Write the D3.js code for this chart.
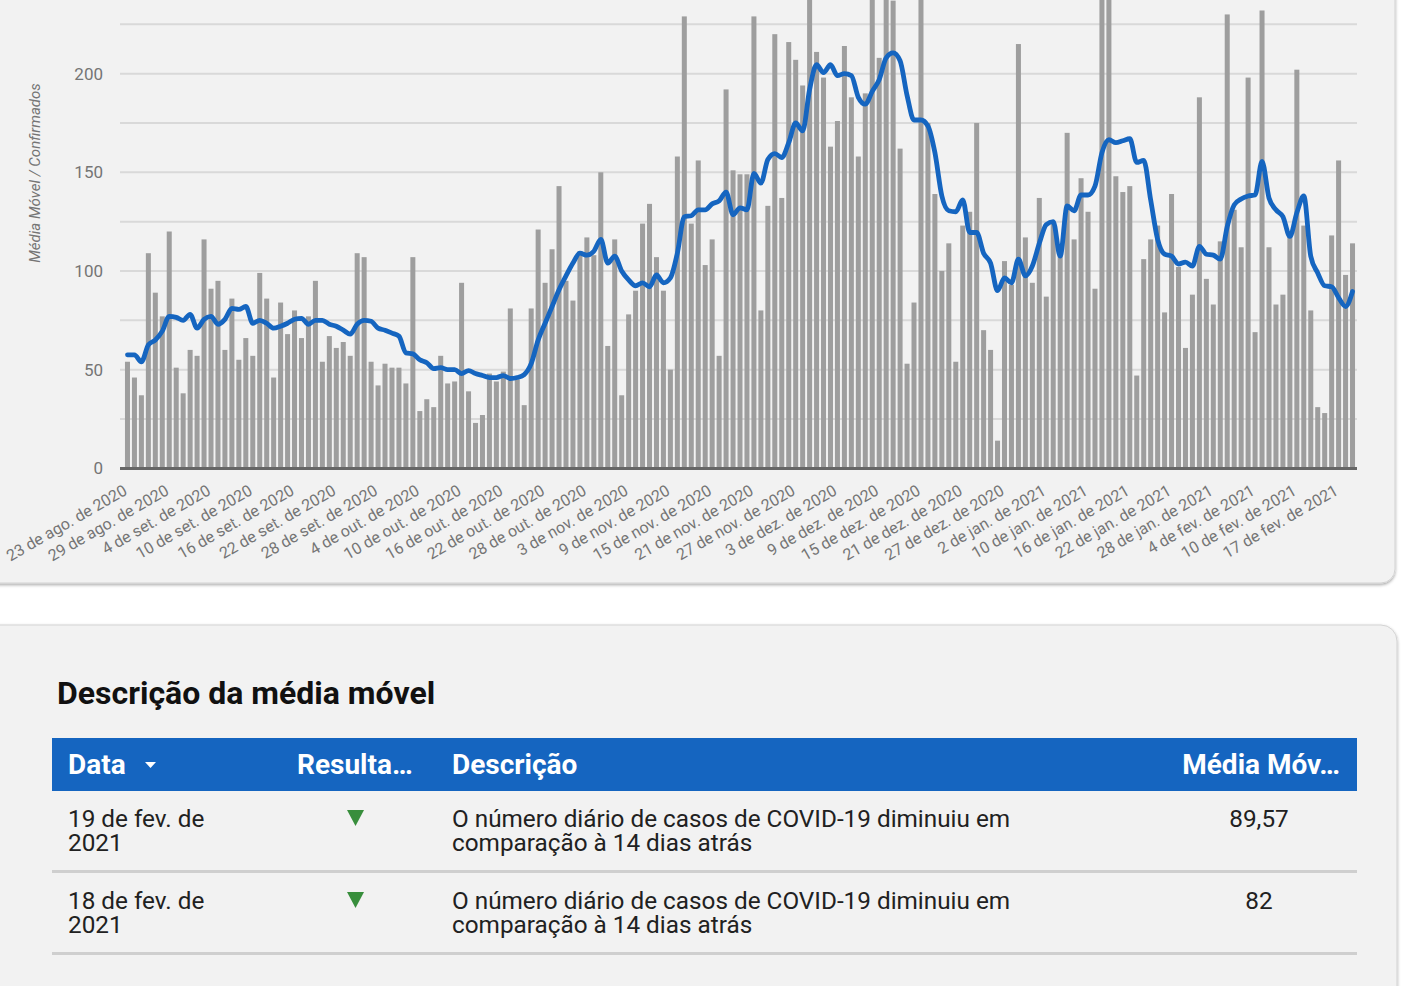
<!DOCTYPE html>
<html><head><meta charset="utf-8">
<script src="https://cdn.jsdelivr.net/npm/d3@7"></script>
<style>
html,body{margin:0;padding:0;background:#fff;overflow:hidden;}
svg{display:block;font-family:Roboto,"Noto Sans",sans-serif;}
</style></head><body>
<svg id="chart" width="1423" height="986"></svg>
<script>
// ---------- DATA ----------
const dailyCases = [
54,46,37,109,89,77,120,51,38,60,57,116,91,95,60,86,55,66,57,99,86,46,84,68,80,66,77,95,
54,67,61,64,57,109,107,54,42,53,51,51,43,107,29,35,31,57,43,44,94,39,23,27,48,44,49,81,
45,32,81,121,94,111,143,95,85,110,117,108,150,62,116,37,78,90,124,134,107,90,50,158,229,124,156,103,116,57,
192,151,149,149,229,80,133,220,137,216,207,194,252,211,198,163,176,214,188,158,190,262,208,258,237,162,53,84,
248,175,139,100,114,54,123,130,175,70,60,14,105,93,215,117,94,137,87,124,108,170,116,147,130,91,265,255,148,
140,143,47,106,116,123,79,139,102,61,88,188,96,83,115,230,131,112,198,69,232,112,83,88,118,202,123,80,31,28,118,156,98,114
];
const movingAverage = [
57.5,57.5,54,62.5,65,69.5,77,76.5,75,78,71,75.5,77,73,75.5,81,80.5,82,73.5,75,73.5,71,72,73.5,75.5,76,73,75,
75,73,72,70,68,73,75,74.5,71,70,68.5,67,58.5,58,55,53.5,50.5,51,50,50,48,49.5,48,47,46,46,47,45.5,
46,47.5,53,65,73.5,82,90.5,97.5,104,109,108,110,116,104,107.5,100,95.5,92.5,94,92,98,94,96.5,109,127.5,128,131,131,134,135.5,
140,128.5,132,131,149.5,144.5,156.5,159.5,157.5,165,175,171,192,204.5,200.5,204.5,199,200,199,188,184.5,191,197,208,210.5,206.5,189,176.5,
176.5,173.5,160,138,130.5,130,136,119.5,119.5,109,104,90,96.5,94,106,97.5,102.5,114,123.5,125,107.5,133,130.5,138.5,138.5,143,160,166.5,165,
166,167,155,156,136,116,108.5,107.5,103.5,104.5,102.5,112.5,108.5,108,106,122.5,133.5,136.5,138,138.5,155.5,137,131,127.5,117.5,129.5,138,107.5,99,92.5,92,86.5,82,89.57
];
const skippedDates = ["2021-01-04","2021-01-07","2021-02-01","2021-02-14"];
const tickLabels = [
"23 de ago. de 2020","29 de ago. de 2020","4 de set. de 2020","10 de set. de 2020","16 de set. de 2020",
"22 de set. de 2020","28 de set. de 2020","4 de out. de 2020","10 de out. de 2020","16 de out. de 2020",
"22 de out. de 2020","28 de out. de 2020","3 de nov. de 2020","9 de nov. de 2020","15 de nov. de 2020",
"21 de nov. de 2020","27 de nov. de 2020","3 de dez. de 2020","9 de dez. de 2020","15 de dez. de 2020",
"21 de dez. de 2020","27 de dez. de 2020","2 de jan. de 2021","10 de jan. de 2021","16 de jan. de 2021",
"22 de jan. de 2021","28 de jan. de 2021","4 de fev. de 2021","10 de fev. de 2021","17 de fev. de 2021"
];
const yTickValues = [0,50,100,150,200];
const yGridValues = [25,50,75,100,125,150,175,200,225];
const yAxisTitle = "Média Móvel / Confirmados";
const tableTitle = "Descrição da média móvel";
const tableHeaders = ["Data","Resulta…","Descrição","Média Móv…"];
const rowDates = [["19 de fev. de","2021"],["18 de fev. de","2021"]];
const rowDescriptions = [
  ["O número diário de casos de COVID-19 diminuiu em","comparação à 14 dias atrás"],
  ["O número diário de casos de COVID-19 diminuiu em","comparação à 14 dias atrás"]
];
const rowValues = ["89,57","82"];

// categories (dates in the data source)
const categories = [];
{
  const d = new Date(Date.UTC(2020,7,23));
  while (categories.length < dailyCases.length) {
    const iso = d.toISOString().slice(0,10);
    if (!skippedDates.includes(iso)) categories.push(iso);
    d.setUTCDate(d.getUTCDate()+1);
  }
}

// ---------- DRAW ----------
const svg = d3.select("#chart");
const defs = svg.append("defs");
const f = defs.append("filter").attr("id","sh").attr("x","-5%").attr("y","-5%").attr("width","110%").attr("height","110%");
f.append("feDropShadow").attr("dx",0).attr("dy",1.5).attr("stdDeviation",1.6)
  .attr("flood-color","#000").attr("flood-opacity",0.35);

// cards
svg.append("rect").attr("x",-20).attr("y",-30).attr("width",1415).attr("height",613).attr("rx",14)
  .attr("fill","#f2f2f2").attr("stroke","#d3d3d3").attr("stroke-width",1).attr("filter","url(#sh)");
svg.append("rect").attr("x",-20).attr("y",625).attr("width",1417).attr("height",420).attr("rx",16)
  .attr("fill","#f2f2f2").attr("stroke","#d3d3d3").attr("stroke-width",1).attr("filter","url(#sh)");

const x = d3.scaleBand().domain(d3.range(categories.length)).range([124,1356]).paddingInner(0.28).paddingOuter(0.14);
const y = d3.scaleLinear().domain([0,250]).range([468.3,-25.03]);
const plotL = 120, plotR = 1357;

// gridlines
svg.append("g").selectAll("line").data(yGridValues).join("line")
  .attr("x1",plotL).attr("x2",plotR).attr("y1",d=>y(d)).attr("y2",d=>y(d))
  .attr("stroke","#d9d9d9").attr("stroke-width",2);

// y axis labels
const yAxis = svg.append("g").attr("transform","translate(103,0)")
  .call(d3.axisLeft(y).tickValues(yTickValues).tickSize(0).tickPadding(0));
yAxis.select(".domain").remove();
yAxis.selectAll("text").attr("font-size",17).attr("fill","#757575").attr("font-family","Roboto");

svg.append("text").attr("transform","translate(36,173) rotate(-90)")
  .attr("text-anchor","middle").attr("dominant-baseline","middle")
  .attr("font-size",15).attr("font-style","italic").attr("fill","#757575").text(yAxisTitle);

// bars
svg.append("g").selectAll("rect").data(dailyCases).join("rect")
  .attr("x",(d,i)=>x(i)).attr("width",x.bandwidth())
  .attr("y",d=>y(d)).attr("height",d=>y(0)-y(d)).attr("fill","#9e9e9e");

// baseline
svg.append("line").attr("x1",plotL).attr("x2",plotR).attr("y1",468.5).attr("y2",468.5)
  .attr("stroke","#666").attr("stroke-width",3);

// moving average line
const line = d3.line().x((d,i)=>x(i)+x.bandwidth()/2).y(d=>y(d)).curve(d3.curveMonotoneX);
svg.append("path").datum(movingAverage).attr("d",line)
  .attr("fill","none").attr("stroke","#1565c0").attr("stroke-width",4.8)
  .attr("stroke-linejoin","round").attr("stroke-linecap","round");

// x axis
const tickIdx = d3.range(0, categories.length, 6);
const xAxis = svg.append("g").attr("transform","translate(0,476)")
  .call(d3.axisBottom(x).tickValues(tickIdx).tickSize(0).tickFormat((d,i)=>tickLabels[i]));
xAxis.select(".domain").remove();
xAxis.selectAll("text").attr("font-size",16).attr("fill","#757575").attr("font-family","Roboto")
  .attr("text-anchor","end").attr("x",0).attr("y",0).attr("dy","0.71em")
  .attr("transform","translate(-5,8) rotate(-30)");

// ---------- TABLE ----------
svg.append("text").attr("x",57).attr("y",704).attr("font-size",32).attr("font-weight","bold")
  .attr("fill","#111").text(tableTitle);
svg.append("rect").attr("x",52).attr("y",738).attr("width",1305).attr("height",53).attr("fill","#1565c0");
const hdrX = [68,297,452,1340];
const hdrAnchor = ["start","start","start","end"];
svg.append("g").selectAll("text").data(tableHeaders).join("text")
  .attr("x",(d,i)=>hdrX[i]).attr("y",774).attr("text-anchor",(d,i)=>hdrAnchor[i])
  .attr("font-size",28).attr("font-weight","bold").attr("fill","#fff").text(d=>d);
svg.append("path").attr("d","M145,762L156,762L150.5,768Z").attr("fill","#fff");

const rowY = [827, 909];
rowY.forEach((by,r)=>{
  const g = svg.append("g").attr("font-size",24.3).attr("fill","#212121");
  rowDates[r].forEach((t,k)=> g.append("text").attr("x",68).attr("y",by+k*23.5).text(t));
  rowDescriptions[r].forEach((t,k)=> g.append("text").attr("x",452).attr("y",by+k*23.5).text(t));
  g.append("text").attr("x",1259).attr("y",by).attr("text-anchor","middle").text(rowValues[r]);
  g.append("path").attr("d",`M347,${by-17}L364,${by-17}L355.5,${by-1}Z`).attr("fill","#388e3c");
  svg.append("line").attr("x1",52).attr("x2",1357).attr("y1",by+44.5).attr("y2",by+44.5)
    .attr("stroke","#cfcfcf").attr("stroke-width",3);
});
</script>
</body></html>
